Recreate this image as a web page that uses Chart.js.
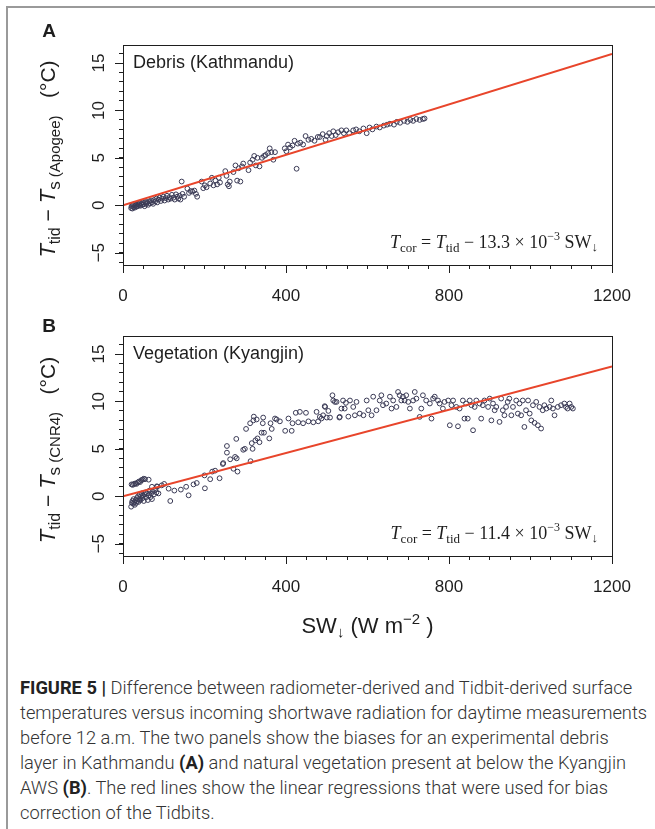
<!DOCTYPE html>
<html>
<head>
<meta charset="utf-8">
<script src="https://cdn.jsdelivr.net/npm/chart.js@4.4.0/dist/chart.umd.min.js"></script>
<style>
  html, body { margin: 0; padding: 0; background: #fff; width: 655px; height: 829px; overflow: hidden; }
  #frame { position: absolute; left: 6px; top: 6px; width: 700px; height: 900px; border-left: 2px solid #9a9a9a; border-top: 2px solid #9a9a9a; }
  canvas { position: absolute; left: 0; }
  #panelA { top: 0; }
  #panelB { top: 312px; }
  #caption { position: absolute; left: 20px; top: 675px; font-family: Roboto, "Liberation Sans", sans-serif; font-weight: 300;
             font-size: 18.3px; line-height: 25px; color: #333; white-space: nowrap; }
  #caption b { font-weight: 700; color: #222; }
</style>
</head>
<body>
<div id="frame"></div>
<canvas id="panelA" width="655" height="312"></canvas>
<canvas id="panelB" width="655" height="338"></canvas>
<div id="caption">
  <b>FIGURE 5 |</b> Difference between radiometer-derived and Tidbit-derived surface<br>
  temperatures versus incoming shortwave radiation for daytime measurements<br>
  before 12 a.m. The two panels show the biases for an experimental debris<br>
  layer in Kathmandu <b>(A)</b> and natural vegetation present at below the Kyangjin<br>
  AWS <b>(B)</b>. The red lines show the linear regressions that were used for bias<br>
  correction of the Tidbits.
</div>
<script>
// axes
const xMajor = [0, 400, 800, 1200];
const yMajor = [-5, 0, 5, 10, 15];
const X_MIN = 0, X_MAX = 1200;
const Y_MIN = -6.3, Y_MAX = 16.9;
const xMinor = [];
for (let v = X_MIN; v <= X_MAX; v += 50) xMinor.push(v);
const yMinor = [];
for (let v = -6; v <= 16; v++) yMinor.push(v);

// panel A: debris (Kathmandu)
const debrisX = [20, 21, 23, 24, 26, 27, 29, 30, 32, 33, 35, 36, 38, 40, 41, 43, 45, 47, 49, 51, 53, 55, 57, 59, 62, 64, 66, 69, 71, 74,
  76, 79, 82, 84, 87, 90, 93, 96, 99, 102, 105, 108, 111, 114, 117, 120, 124, 127, 130, 133, 136, 139, 141, 144, 146, 150,
  158, 162, 166, 170, 175, 179, 182, 193, 197, 201, 205, 214, 218, 222, 227, 231, 235, 238, 251, 254, 257, 260, 262,
  271, 276, 280, 284, 288, 292, 295, 308, 312, 318, 322, 326, 330, 335, 341, 346, 350, 356, 360, 364, 369, 373,
  397, 401, 405, 410, 416, 421, 426, 429, 435, 442, 448, 455, 462, 470, 478, 483, 490, 497, 500, 506, 512, 516, 522, 528,
  536, 542, 548, 555, 565, 572, 580, 590, 598, 605, 612, 622, 630, 640, 648, 655, 665, 672, 680, 690, 698, 705, 712, 720, 728, 736, 740];
const debrisY = [-0.3, -0.1, -0.35, 0.0, -0.2, 0.1, -0.25, -0.05, 0.05, -0.15, 0.15, -0.1, 0.1, 0.0, 0.25, -0.05, 0.2, 0.05, 0.3, 0.1, -0.1, 0.35, 0.15, 0.3, 0.05, 0.4, 0.2, 0.5, 0.3, 0.15,
  0.55, 0.4, 0.7, 0.3, 0.6, 0.8, 0.45, 0.7, 0.9, 0.5, 0.75, 1.0, 0.6, 0.85, 0.7, 1.1, 0.8, 0.6, 1.15, 0.9, 0.7, 1.0, 0.6, 2.5, 1.2, 0.9,
  1.75, 1.3, 1.5, 1.45, 1.55, 1.2, 0.9, 2.5, 1.8, 2.1, 1.9, 2.3, 2.9, 2.1, 2.6, 2.2, 2.9, 2.4, 3.6, 3.1, 2.2, 2.0, 2.5,
  3.5, 4.2, 2.6, 3.9, 2.5, 4.1, 4.4, 3.7, 4.5, 4.8, 5.2, 4.2, 5.0, 4.1, 5.0, 5.2, 5.3, 5.5, 6.0, 5.6, 4.8, 5.6,
  6.0, 5.7, 6.4, 6.1, 6.3, 6.8, 3.85, 6.5, 6.6, 6.4, 7.3, 6.9, 7.0, 6.8, 7.2, 7.2, 7.5, 6.9, 7.3, 7.6, 7.3, 7.8, 7.4, 7.7,
  7.9, 7.6, 7.9, 7.6, 7.9, 8.0, 7.8, 8.1, 7.6, 8.2, 8.0, 8.3, 8.2, 8.4, 8.5, 8.6, 8.5, 8.8, 8.7, 8.9, 8.8, 9.0, 8.9, 9.1, 9.0, 9.1, 9.15];

// panel B: vegetation (Kyangjin)
const vegX = [20, 22, 23, 25, 26, 28, 29, 31, 32, 34, 35, 37, 38, 40, 41, 43, 44, 46, 48, 49, 51, 53, 55, 57, 59, 61, 63, 65, 67, 69, 71, 73, 76, 79, 82, 84, 87,
  21, 24, 27, 30, 33, 36, 39, 42, 45, 48, 51, 54, 63,
  71, 83, 95, 101, 112, 116, 126, 142, 155, 161, 173, 181,
  200, 201, 214, 219, 226, 237, 245, 246, 255, 255, 263, 271, 275, 278, 279, 281, 295, 299, 302, 312, 313, 316, 318, 320, 321, 325, 328, 330,
  335, 340, 343, 344, 346, 359, 362, 365, 373, 377, 385, 398, 406, 414, 416, 424, 430, 434, 442, 449, 455, 467, 475, 479, 487, 495, 500, 504, 508,
  514, 524, 531, 536, 547, 553, 483, 491, 496, 516, 520, 532, 540, 544,
  557, 565, 569, 573, 581, 590, 598, 602, 610, 614, 622, 630, 634, 638, 646, 655, 659, 663, 671, 675, 679, 683, 687, 691, 695, 700, 704,
  712, 716, 720, 728, 732, 736, 744, 753, 757, 761, 765, 773, 777, 785, 789, 798, 802, 806, 810, 818, 822, 826, 834, 838, 842, 846, 851, 855,
  859, 863, 867, 875, 879, 883, 887, 896, 900, 904, 908, 912, 916, 924, 928, 932, 936, 940, 944, 948, 953, 957, 965, 969, 973, 977, 981, 985,
  989, 994, 998, 1002, 1006, 1010, 1014, 1018, 1022, 1026, 1030, 1034, 1039, 1047, 1051, 1055, 1059, 1067, 1075, 1083, 1087, 1091, 1096, 1100, 1104];
const vegY = [-1.1, -0.7, -0.5, -0.8, -0.3, -0.6, -0.9, -0.4, -0.7, -0.2, -0.5, 0.0, -0.6, -0.3, 0.2, -0.4, 0.0, 0.3, -0.2, 0.1, -0.5, 0.2, 0.4, -0.1, 0.3, -0.4, 0.1, 0.6, -0.1, 0.3, -0.3, 0.5, 0.2, 0.7, 0.4, 1.0, 0.3,
  1.25, 1.2, 1.3, 1.35, 1.3, 1.45, 1.55, 1.5, 1.7, 1.75, 1.85, 1.8, 1.75,
  1.0, 1.05, 1.15, 1.3, 0.8, -0.5, 0.6, 0.7, 1.0, 0.1, 1.25, 1.4,
  2.2, 0.84, 1.8, 2.6, 2.7, 1.9, 3.4, 3.5, 4.6, 5.3, 3.9, 2.9, 4.15, 6.05, 4.0, 2.6, 4.9, 5.0, 7.1, 7.7, 3.7, 5.6, 5.0, 8.0, 8.4, 5.9, 8.1, 6.1,
  5.7, 6.7, 7.7, 8.3, 6.7, 6.1, 7.7, 7.1, 8.2, 8.1, 7.9, 6.9, 8.2, 6.9, 7.7, 8.8, 7.8, 8.9, 7.7, 8.8, 7.9, 7.8, 8.9, 7.9, 8.2, 9.5, 8.3, 9.0, 8.3,
  10.65, 9.95, 8.3, 9.25, 9.85, 8.4, 8.37, 8.54, 9.42, 10.1, 9.95, 8.37, 10.1, 9.25,
  10.1, 9.42, 8.54, 9.95, 8.72, 8.54, 10.1, 9.07, 8.54, 10.5, 9.07, 10.1, 10.65, 9.6, 9.78, 10.5, 9.25, 10.1, 9.42, 11.0, 10.65, 10.1, 10.5, 10.1, 10.65, 9.95, 9.25,
  10.1, 11.0, 10.3, 8.37, 9.25, 10.65, 10.1, 9.78, 8.19, 10.3, 10.5, 10.1, 9.78, 9.25, 9.95, 10.1, 7.49, 9.6, 10.1, 9.42, 7.38, 9.25, 10.1, 8.19, 9.78, 8.19, 10.1, 9.6,
  6.96, 9.42, 10.1, 9.78, 8.19, 9.6, 10.1, 9.42, 10.3, 8.0, 9.78, 9.07, 9.42, 7.84, 10.3, 9.07, 8.54, 9.42, 9.95, 10.3, 8.54, 9.42, 10.1, 8.72, 9.78, 8.54, 10.1, 7.31,
  9.07, 10.1, 8.72, 8.0, 9.6, 7.74, 9.95, 7.49, 9.42, 7.14, 9.07, 9.6, 9.25, 9.42, 10.1, 9.25, 8.54, 9.42, 9.6, 9.78, 9.42, 9.25, 9.78, 9.42, 9.25];

// regression slopes (degC per W m-2)
const slopeDebris = 13.3e-3;
const slopeVeg = 11.4e-3;
const fitX = [X_MIN, X_MAX];

const RED = '#e8452b';
const DOT = '#3a3a55';
const INK = '#1e1e1e';
const SANS = '"Liberation Sans", Arial, sans-serif';
const SERIF = '"Liberation Serif", "Times New Roman", serif';

function drawRich(ctx, parts, x, y, align) {
    let w = 0;
    parts.forEach(p => { ctx.font = p.font; w += ctx.measureText(p.t).width; });
    let cx = align === 'right' ? x - w : (align === 'center' ? x - w / 2 : x);
    ctx.textAlign = 'left';
    ctx.textBaseline = 'alphabetic';
    parts.forEach(p => {
        ctx.font = p.font;
        ctx.fillText(p.t, cx, y + (p.dy || 0));
        cx += ctx.measureText(p.t).width;
    });
}

function eqParts(slope) {
    const k = (slope * 1000).toFixed(1);
    return [
        { t: 'T', font: 'italic 18px ' + SERIF },
        { t: 'cor', font: '13px ' + SERIF, dy: 4 },
        { t: ' = ', font: '18px ' + SERIF },
        { t: 'T', font: 'italic 18px ' + SERIF },
        { t: 'tid', font: '13px ' + SERIF, dy: 4 },
        { t: ' \u2212 ' + k + ' \u00d7 10', font: '18px ' + SERIF },
        { t: '\u22123', font: '12px ' + SERIF, dy: -8 },
        { t: ' SW', font: '18px ' + SERIF },
        { t: '\u2193', font: '13px ' + SERIF, dy: 3 }
    ];
}

function yTitleParts(sensor) {
    return [
        { t: 'T', font: 'italic 22px ' + SANS },
        { t: 'tid', font: '16px ' + SANS, dy: 5 },
        { t: ' \u2212 ', font: '21px ' + SANS },
        { t: 'T', font: 'italic 22px ' + SANS },
        { t: 's', font: '17px ' + SANS, dy: 5 },
        { t: ' (' + sensor + ')', font: '15px ' + SANS, dy: 5 },
        { t: '   (\u00b0C)', font: '21px ' + SANS }
    ];
}

function panelDecor(cfg) {
    return {
        id: 'decor',
        afterDraw(chart) {
            const ctx = chart.ctx;
            const a = chart.chartArea;
            const xs = chart.scales.x, ys = chart.scales.y;
            ctx.save();
            ctx.strokeStyle = INK;
            ctx.lineWidth = 1;
            ctx.strokeRect(Math.round(a.left) + 0.5, Math.round(a.top) + 0.5, Math.round(a.right - a.left), Math.round(a.bottom - a.top));
            // longer ticks at the labelled values
            ctx.beginPath();
            xMajor.forEach(v => {
                const px = Math.round(xs.getPixelForValue(v)) + 0.5;
                ctx.moveTo(px, a.bottom);
                ctx.lineTo(px, a.bottom + 8);
            });
            yMajor.forEach(v => {
                const py = Math.round(ys.getPixelForValue(v)) + 0.5;
                ctx.moveTo(a.left - 8, py);
                ctx.lineTo(a.left, py);
            });
            ctx.stroke();

            ctx.fillStyle = INK;
            ctx.font = 'bold 19px ' + SANS;
            ctx.textAlign = 'center';
            ctx.fillText(cfg.letter, 49, cfg.letterY);
            ctx.font = '18px ' + SANS;
            ctx.textAlign = 'left';
            ctx.fillText(cfg.label, a.left + 10, a.top + 23);

            drawRich(ctx, eqParts(cfg.slope), a.right - 14, a.bottom - 17, 'right');

            ctx.save();
            ctx.translate(55, (a.top + a.bottom) / 2 + 4);
            ctx.rotate(-Math.PI / 2);
            drawRich(ctx, yTitleParts(cfg.sensor), 0, 0, 'center');
            ctx.restore();

            if (cfg.xTitle) {
                drawRich(ctx, [
                    { t: 'SW', font: '22px ' + SANS },
                    { t: '\u2193', font: '15px ' + SANS, dy: 4 },
                    { t: ' (W m', font: '22px ' + SANS },
                    { t: '\u22122', font: '15px ' + SANS, dy: -9 },
                    { t: ' )', font: '22px ' + SANS }
                ], (a.left + a.right) / 2, cfg.xTitleY, 'center');
            }
            ctx.restore();
        }
    };
}

function makePanel(canvasId, xs, ys, slope, cfg) {
    const points = xs.map((x, i) => ({ x: x, y: ys[i] }));
    const fit = fitX.map(x => ({ x: x, y: slope * x }));
    const axisGrid = { display: true, drawOnChartArea: false, drawTicks: true, tickLength: 4, color: INK, tickColor: INK, tickWidth: 1 };
    return new Chart(document.getElementById(canvasId), {
        type: 'scatter',
        data: {
            datasets: [
                { type: 'line', data: fit, borderColor: RED, borderWidth: 2, pointRadius: 0, fill: false },
                { data: points, pointRadius: 2.4, borderWidth: 1, borderColor: DOT, backgroundColor: 'rgba(0,0,0,0)' }
            ]
        },
        options: {
            responsive: false,
            animation: false,
            events: [],
            layout: { padding: { left: 0, top: cfg.top, right: 43, bottom: 0 } },
            plugins: { legend: { display: false }, tooltip: { enabled: false } },
            scales: {
                x: {
                    type: 'linear', min: X_MIN, max: X_MAX,
                    afterBuildTicks: s => { s.ticks = xMinor.map(v => ({ value: v })); },
                    afterFit: s => { s.height = cfg.xAxisH; },
                    grid: axisGrid,
                    border: { display: true, color: INK, width: 1 },
                    ticks: {
                        autoSkip: false, maxRotation: 0, minRotation: 0, padding: 17,
                        color: INK, font: { family: SANS, size: 17 },
                        callback: v => xMajor.includes(v) ? String(v) : ''
                    }
                },
                y: {
                    type: 'linear', min: Y_MIN, max: Y_MAX,
                    afterBuildTicks: s => { s.ticks = yMinor.map(v => ({ value: v })); },
                    afterFit: s => { s.width = 123; },
                    grid: axisGrid,
                    border: { display: true, color: INK, width: 1 },
                    ticks: {
                        autoSkip: false, minRotation: 90, maxRotation: 90, crossAlign: 'center', padding: 10,
                        color: INK, font: { family: SANS, size: 17 },
                        callback: v => yMajor.includes(v) ? String(v).replace('-', '\u2212') : ''
                    }
                }
            }
        },
        plugins: [panelDecor(Object.assign({ slope: slope }, cfg))]
    });
}

makePanel('panelA', debrisX, debrisY, slopeDebris, {
    top: 45, xAxisH: 47, letter: 'A', letterY: 37, label: 'Debris (Kathmandu)', sensor: 'Apogee'
});
makePanel('panelB', vegX, vegY, slopeVeg, {
    top: 24, xAxisH: 94, letter: 'B', letterY: 20, label: 'Vegetation (Kyangjin)', sensor: 'CNR4',
    xTitle: true, xTitleY: 321
});
</script>
</body>
</html>
